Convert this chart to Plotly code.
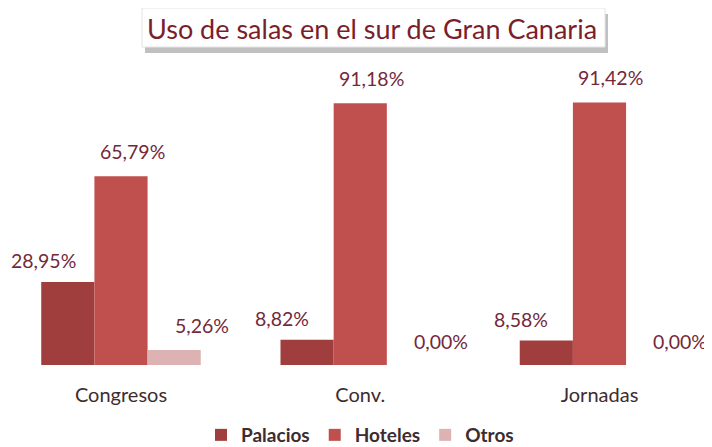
import plotly.graph_objects as go

categories = ["Congresos", "Conv.", "Jornadas"]
series_names = ["Palacios", "Hoteles", "Otros"]
palacios = [28.95, 8.82, 8.58]
hoteles = [65.79, 91.18, 91.42]
otros = [5.26, 0.00, 0.00]
title_text = "Uso de salas en el sur de Gran Canaria"

values = [palacios, hoteles, otros]
colors = ["#A03D3D", "#C0504D", "#DDB2B2"]
label_xshift = [-25, 11, 28]
label_yshift = [21, 25, 24]
FONT = "Lato, 'Open Sans', sans-serif"
LABEL_COLOR = "#72293A"
TEXT_COLOR = "#3E2C2E"

W, H = 712, 447
ML, MR, MT, MB = 0, 0, 70, 90
PW, PH = W - ML - MR, H - MT - MB


def px_x(px):
    return (px - ML) / PW


def px_y(py):
    return (H - MB - py) / PH


fig = go.Figure()
for name, vals, col in zip(series_names, values, colors):
    fig.add_trace(go.Bar(
        name=name, x=categories, y=vals,
        marker=dict(color=col, line=dict(width=0)),
        hoverinfo="skip",
    ))

BAR_PX = 53
n = len(series_names)
for si, vals in enumerate(values):
    for ci, cat in enumerate(categories):
        fig.add_annotation(
            x=ci, y=vals[ci], xref="x", yref="y",
            text=f"{vals[ci]:.2f}%".replace(".", ","),
            showarrow=False,
            xshift=(si - (n - 1) / 2) * BAR_PX + label_xshift[si],
            yshift=label_yshift[si],
            font=dict(family=FONT, size=19.5, color=LABEL_COLOR),
        )

# title box with soft shadow
fig.add_shape(type="rect", xref="paper", yref="paper",
              x0=px_x(137), x1=px_x(600), y0=px_y(45), y1=px_y(6),
              fillcolor="#b0b0b0", line=dict(width=0), opacity=0.8)
fig.add_shape(type="rect", xref="paper", yref="paper",
              x0=px_x(134), x1=px_x(597), y0=px_y(39), y1=px_y(0),
              fillcolor="white", line=dict(width=1, color="#e4e4e4"))
fig.add_annotation(
    x=px_x(364), y=px_y(20), xref="paper", yref="paper",
    xanchor="center", yanchor="middle",
    text=title_text, showarrow=False,
    font=dict(family=FONT, size=27, color="#7A1E2C"),
)

fig.update_layout(
    width=W, height=H,
    margin=dict(l=ML, r=MR, t=MT, b=MB),
    paper_bgcolor="white", plot_bgcolor="white",
    barmode="group", bargap=0.3333, bargroupgap=0,
    showlegend=True,
    legend=dict(orientation="h", xref="container", yref="container",
                x=352 / W, xanchor="center", y=1 - 427 / H, yanchor="middle",
                font=dict(family=FONT, size=19, color=TEXT_COLOR, weight="bold"),
                traceorder="normal", itemwidth=30),
    font=dict(family=FONT),
)
fig.update_xaxes(type="category", range=[-0.4723, 2.5037], showline=False, ticks="",
                 showgrid=False, zeroline=False, automargin=False,
                 tickfont=dict(family=FONT, size=20, color=TEXT_COLOR),
                 ticklabelstandoff=16)
fig.update_yaxes(range=[0, 100], visible=False, showgrid=False, zeroline=False)

fig.write_html("out.html")
